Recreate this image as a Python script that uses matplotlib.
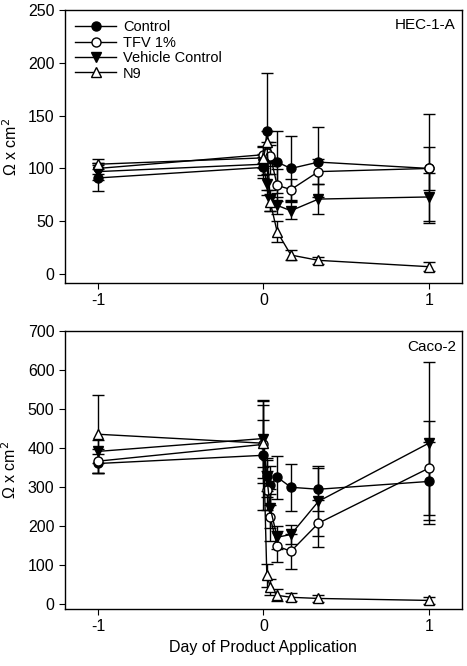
import matplotlib
matplotlib.use("Agg")
import matplotlib.pyplot as plt
from matplotlib.lines import Line2D

plt.rcParams['font.family'] = ['Liberation Sans', 'DejaVu Sans']

days = [-1, 0, 0.0208, 0.0417, 0.0833, 0.1667, 0.333, 1]
series_names = ["Control", "TFV 1%", "Vehicle Control", "N9"]

# HEC-1-A
hec_control = [91, 101, 135, 110, 106, 100, 106, 100]
hec_control_err = [12, 10, 55, 15, 29, 31, 33, 52]
hec_tfv = [100, 113, 115, 112, 84, 80, 97, 100]
hec_tfv_err = [5, 8, 10, 10, 15, 10, 12, 20]
hec_vehicle = [97, 104, 85, 70, 65, 60, 71, 73]
hec_vehicle_err = [8, 10, 10, 10, 8, 8, 14, 23]
hec_n9 = [104, 110, 125, 68, 40, 18, 13, 7]
hec_n9_err = [5, 10, 10, 8, 10, 5, 3, 4]

# Caco-2
caco_control = [361, 382, 330, 305, 326, 300, 295, 315]
caco_control_err = [25, 140, 40, 50, 55, 60, 55, 100]
caco_tfv = [367, 410, 292, 223, 149, 136, 208, 349]
caco_tfv_err = [30, 100, 50, 60, 40, 45, 60, 120]
caco_vehicle = [392, 425, 326, 246, 172, 179, 264, 413]
caco_vehicle_err = [30, 100, 50, 50, 30, 25, 90, 207]
caco_n9 = [436, 413, 74, 44, 23, 18, 15, 10]
caco_n9_err = [100, 60, 30, 20, 15, 10, 8, 8]

styles = [
    dict(marker='o', mfc='black', mec='black'),
    dict(marker='o', mfc='white', mec='black'),
    dict(marker='v', mfc='black', mec='black'),
    dict(marker='^', mfc='white', mec='black'),
]

fig = plt.figure(figsize=(4.67, 6.66), dpi=100)
ax1 = fig.add_axes([0.139, 0.575, 0.850, 0.410])
ax2 = fig.add_axes([0.139, 0.0856, 0.850, 0.417])

def draw(ax, data, errs):
    for vals, err, st, name in zip(data, errs, styles, series_names):
        ax.errorbar(days, vals, yerr=err, color='black', lw=1.0, ms=6.5,
                    capsize=4, elinewidth=1.0, capthick=1.0, mew=1.0,
                    label=name, **st)
    ax.set_xlim(-1.2, 1.2)
    ax.set_xticks([-1, 0, 1])
    ax.set_xticklabels(['-1', '0', '1'])
    ax.tick_params(axis='both', direction='out', length=4, labelsize=11.5,
                   top=False, right=False)
    ax.set_ylabel('Ω x cm$^2$', fontsize=11.5, labelpad=6)
    for s in ax.spines.values():
        s.set_linewidth(1.0)

draw(ax1, [hec_control, hec_tfv, hec_vehicle, hec_n9],
     [hec_control_err, hec_tfv_err, hec_vehicle_err, hec_n9_err])
ax1.set_ylim(-8.5, 250)
ax1.set_yticks([0, 50, 100, 150, 200, 250])
ax1.text(0.985, 0.97, 'HEC-1-A', transform=ax1.transAxes, ha='right', va='top', fontsize=11)
handles = [Line2D([0], [0], color='black', lw=1.0, ms=6.5, mew=1.0, **st) for st in styles]
ax1.legend(handles, series_names, loc='upper left', frameon=False, fontsize=10.5,
           handlelength=2.8, labelspacing=0.1, borderaxespad=0.3, handletextpad=0.5)

draw(ax2, [caco_control, caco_tfv, caco_vehicle, caco_n9],
     [caco_control_err, caco_tfv_err, caco_vehicle_err, caco_n9_err])
ax2.set_ylim(-12, 700)
ax2.set_yticks([0, 100, 200, 300, 400, 500, 600, 700])
ax2.text(0.985, 0.97, 'Caco-2', transform=ax2.transAxes, ha='right', va='top', fontsize=11)
ax2.set_xlabel('Day of Product Application', fontsize=11.5)

fig.savefig('out.png', dpi=100)
